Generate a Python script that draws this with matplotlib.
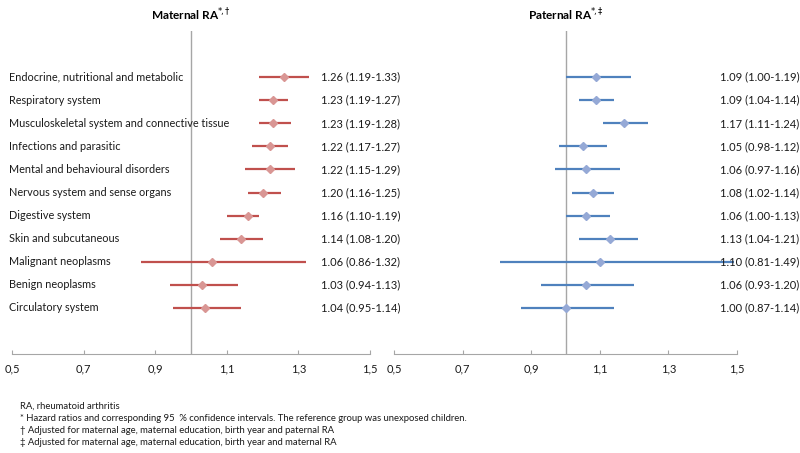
import matplotlib
matplotlib.use("Agg")
import matplotlib.pyplot as plt

plt.rcParams['font.family'] = ['Lato', 'DejaVu Sans']

categories = [
    'Endocrine, nutritional and metabolic',
    'Respiratory system',
    'Musculoskeletal system and connective tissue',
    'Infections and parasitic',
    'Mental and behavioural disorders',
    'Nervous system and sense organs',
    'Digestive system',
    'Skin and subcutaneous',
    'Malignant neoplasms',
    'Benign neoplasms',
    'Circulatory system',
]

mat_hr = [1.26, 1.23, 1.23, 1.22, 1.22, 1.20, 1.16, 1.14, 1.06, 1.03, 1.04]
mat_lo = [1.19, 1.19, 1.19, 1.17, 1.15, 1.16, 1.10, 1.08, 0.86, 0.94, 0.95]
mat_hi = [1.33, 1.27, 1.28, 1.27, 1.29, 1.25, 1.19, 1.20, 1.32, 1.13, 1.14]

pat_hr = [1.09, 1.09, 1.17, 1.05, 1.06, 1.08, 1.06, 1.13, 1.10, 1.06, 1.00]
pat_lo = [1.00, 1.04, 1.11, 0.98, 0.97, 1.02, 1.00, 1.04, 0.81, 0.93, 0.87]
pat_hi = [1.19, 1.14, 1.24, 1.12, 1.16, 1.14, 1.13, 1.21, 1.49, 1.20, 1.14]

xticks = [0.5, 0.7, 0.9, 1.1, 1.3, 1.5]
xticklabels = ['0,5', '0,7', '0,9', '1,1', '1,3', '1,5']

footnotes = [
    'RA, rheumatoid arthritis',
    '* Hazard ratios and corresponding 95  % confidence intervals. The reference group was unexposed children.',
    '\u2020 Adjusted for maternal age, maternal education, birth year and paternal RA',
    '\u2021 Adjusted for maternal age, maternal education, birth year and maternal RA',
]

fig = plt.figure(figsize=(8, 4.53), dpi=100)
ax1 = fig.add_axes([0.015, 0.2185, 0.4475, 0.713])
ax2 = fig.add_axes([0.4925, 0.2185, 0.42875, 0.713])

ypos = list(range(12, 1, -1))
grey = '#a6a6a6'
txt_c = '#1a1a1a'


def panel(ax, hr, lo, hi, line_c, mark_c, title, text_x, show_labels):
    ax.set_facecolor('none')
    ax.set_xlim(0.5, 1.5)
    ax.set_ylim(0, 14)
    ax.axvline(1.0, color=grey, lw=1.0, zorder=1)
    for y, h, l, u in zip(ypos, hr, lo, hi):
        ax.plot([l, u], [y, y], color=line_c, lw=1.6, solid_capstyle='butt', zorder=2)
        ax.plot(h, y, marker='D', ms=4.5, color=mark_c, mec=mark_c, zorder=3)
        ax.text(text_x, y, '%.2f (%.2f-%.2f)' % (h, l, u), fontsize=8,
                va='center', ha='left', color=txt_c, clip_on=False)
    for s in ['top', 'right', 'left']:
        ax.spines[s].set_visible(False)
    ax.spines['bottom'].set_color(grey)
    ax.set_yticks([])
    ax.set_xticks(xticks)
    ax.set_xticklabels(xticklabels, fontsize=8, color=txt_c)
    ax.tick_params(axis='x', direction='in', length=3, color=grey, pad=7)
    ax.set_title(title, fontsize=8.5, fontweight='bold', pad=8)
    if show_labels:
        for y, c in zip(ypos, categories):
            ax.text(-0.007, y, c, transform=ax.get_yaxis_transform(), fontsize=7.8,
                    va='center', ha='left', color=txt_c, clip_on=False)


panel(ax1, mat_hr, mat_lo, mat_hi, '#c0504d', '#d99694',
      r'Maternal RA$^{*\!,\!\dagger}$', 1.362, True)
panel(ax2, pat_hr, pat_lo, pat_hi, '#4f81bd', '#95a9d6',
      r'Paternal RA$^{*\!,\!\ddagger}$', 1.45, False)

for i, t in enumerate(footnotes):
    fig.text(0.025, 1 - (406 + i * 12.3) / 453, t, fontsize=6.8, va='center',
             ha='left', color=txt_c)

fig.savefig('out.png', dpi=100)
